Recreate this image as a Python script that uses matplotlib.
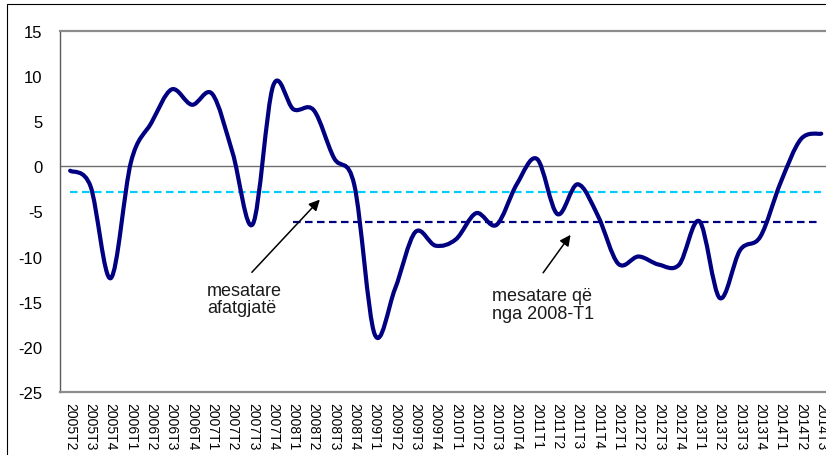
import numpy as np
import matplotlib.pyplot as plt
from matplotlib.path import Path
from matplotlib.patches import PathPatch, Rectangle

plt.rcParams['font.family'] = ['Liberation Sans', 'DejaVu Sans']

# Datos (lectura aproximada del gráfico)
quarters = ['2005T2', '2005T3', '2005T4',
            '2006T1', '2006T2', '2006T3', '2006T4',
            '2007T1', '2007T2', '2007T3', '2007T4',
            '2008T1', '2008T2', '2008T3', '2008T4',
            '2009T1', '2009T2', '2009T3', '2009T4',
            '2010T1', '2010T2', '2010T3', '2010T4',
            '2011T1', '2011T2', '2011T3', '2011T4',
            '2012T1', '2012T2', '2012T3', '2012T4',
            '2013T1', '2013T2', '2013T3', '2013T4',
            '2014T1', '2014T2', '2014T3']
values = [-0.5, -2.2, -12.4,
          0.5, 4.8, 8.5, 6.8,
          8.0, 1.5, -6.4, 8.9,
          6.3, 6.2, 0.9, -2.1,
          -18.6, -13.6, -7.3, -8.8,
          -8.1, -5.2, -6.5, -2.0,
          0.8, -5.3, -2.0, -5.5,
          -10.8, -10.0, -10.9, -10.9,
          -6.1, -14.6, -9.3, -7.8,
          -1.8, 3.0, 3.6]
long_mean = -2.85        # mesatare afatgjatë
recent_mean = -6.2       # mesatare që nga 2008-T1
recent_start = '2008T1'

yticks = [15, 10, 5, 0, -5, -10, -15, -20, -25]

W, H = 826, 456
fig = plt.figure(figsize=(W / 100, H / 100), dpi=100)
ax = fig.add_axes([60 / W, 1 - 393 / H, 771.4 / W, (393 - 31.7) / H])

x = np.arange(len(quarters))
y = np.array(values, dtype=float)


def smooth_path(xs, ys):
    # curva suavizada tipo Excel (Bezier a través de los puntos)
    verts = [(xs[0], ys[0])]
    codes = [Path.MOVETO]
    n = len(xs)
    for i in range(n - 1):
        p0 = np.array([xs[max(i - 1, 0)], ys[max(i - 1, 0)]])
        p1 = np.array([xs[i], ys[i]])
        p2 = np.array([xs[i + 1], ys[i + 1]])
        p3 = np.array([xs[min(i + 2, n - 1)], ys[min(i + 2, n - 1)]])
        c1 = p1 + (p2 - p0) / 6
        c2 = p2 - (p3 - p1) / 6
        verts += [tuple(c1), tuple(c2), tuple(p2)]
        codes += [Path.CURVE4] * 3
    return Path(verts, codes)


ax.axhline(0, color='#6e6e6e', lw=1.0, zorder=1)

# Medias
ax.plot(x, [long_mean] * len(x), color='#00CCFF', lw=1.6,
        dashes=(3.4, 2.0), zorder=2)
i0 = quarters.index(recent_start)
ax.plot(x[i0:], [recent_mean] * len(x[i0:]), color='#000080', lw=1.6,
        dashes=(3.4, 2.0), zorder=2)

# Serie principal
ax.add_patch(PathPatch(smooth_path(x, y), fill=False, ec='#000080',
                       lw=3.0, capstyle='round', joinstyle='round', zorder=3))

# Anotaciones
arrow = dict(arrowstyle='-|>', color='black', lw=1.1, mutation_scale=16,
             shrinkA=0, shrinkB=0)
ax.annotate('', xy=(12.3, -3.7), xytext=(8.95, -11.75), arrowprops=arrow)
ax.annotate('', xy=(24.65, -7.6), xytext=(23.3, -11.8), arrowprops=arrow)
ax.text(6.75, -12.8, 'mesatare\nafatgjatë', fontsize=13, ha='left',
        va='top', linespacing=1.02, color='#1a1a1a')
ax.text(20.8, -13.35, 'mesatare që\nnga 2008-T1', fontsize=13, ha='left',
        va='top', linespacing=1.12, color='#1a1a1a')

ax.set_xlim(-0.5, len(quarters) - 0.5)
ax.set_ylim(-25, 15)
ax.set_yticks(yticks)
ax.set_yticklabels([str(t) for t in yticks])
ax.set_xticks(x)
ax.set_xticklabels(quarters, rotation=270, fontsize=10)
ax.tick_params(axis='y', length=0, pad=12.5, labelsize=12)
ax.tick_params(axis='x', length=0, pad=7.5)

ax.spines['right'].set_visible(False)
ax.spines['top'].set_color('#8c8c8c')
ax.spines['top'].set_linewidth(1.6)
ax.spines['bottom'].set_color('#8c8c8c')
ax.spines['bottom'].set_linewidth(1.6)
ax.spines['left'].set_color('#5a5a5a')
ax.spines['left'].set_linewidth(1.0)

# Marco exterior del gráfico
fig.patches.append(Rectangle((7 / W, -0.1), 1.2, 1.1 - 5 / H,
                             transform=fig.transFigure, fill=False,
                             ec='black', lw=0.8))

fig.savefig('out.png', dpi=100)
